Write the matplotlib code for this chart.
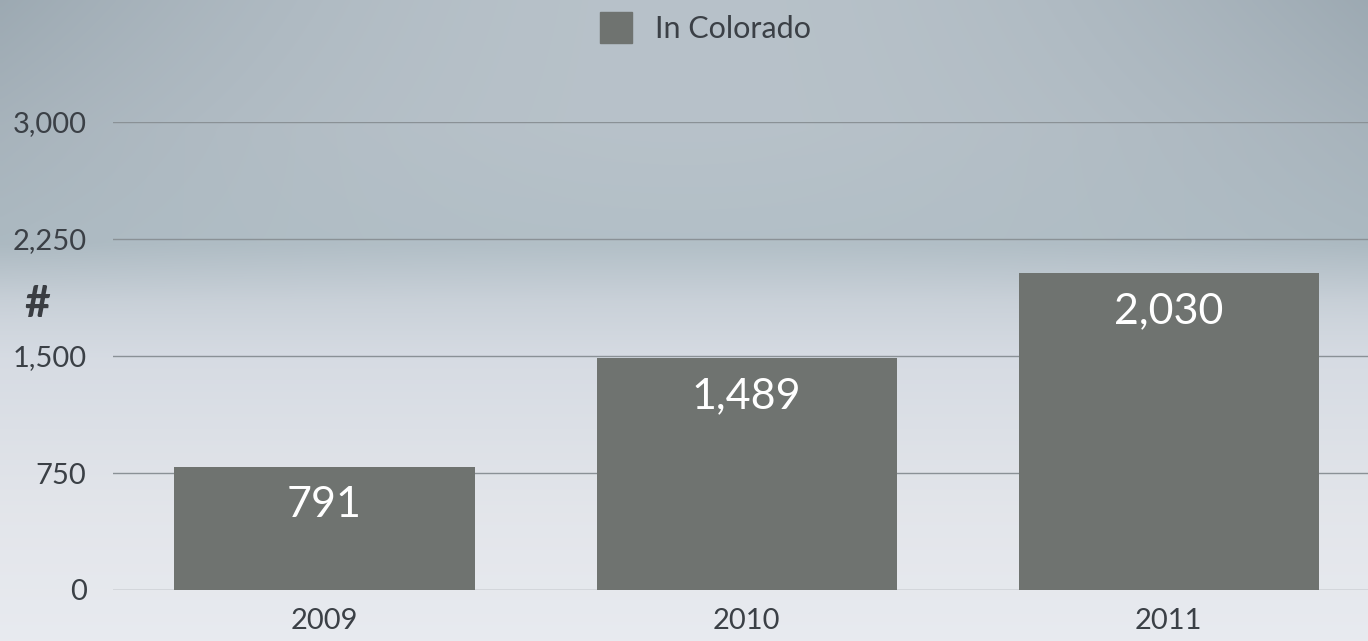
import numpy as np
import matplotlib
matplotlib.use("Agg")
import matplotlib.pyplot as plt
from matplotlib.patches import Rectangle

years = ["2009", "2010", "2011"]
values = [791, 1489, 2030]
value_labels = ["791", "1,489", "2,030"]
yticks = [0, 750, 1500, 2250, 3000]
ytick_labels = ["0", "750", "1,500", "2,250", "3,000"]
series_name = "In Colorado"

plt.rcParams['font.family'] = ['Lato', 'DejaVu Sans']
W, H = 1368, 641
fig = plt.figure(figsize=(W / 100, H / 100), dpi=100)

# background gradient
bg = fig.add_axes([0, 0, 1, 1], zorder=0)
ny, nx = 300, 300
yy = np.linspace(0, 1, ny)[:, None]  # 0 top, 1 bottom
xx = np.linspace(0, 1, nx)[None, :]
sy = [0.0, 0.2, 0.38, 0.47, 0.56, 0.8, 1.0]
rs = [0.72, 0.72, 0.70, 0.79, 0.84, 0.89, 0.91]
gs = [0.76, 0.76, 0.75, 0.82, 0.86, 0.90, 0.92]
bs = [0.79, 0.79, 0.78, 0.85, 0.89, 0.92, 0.94]
edge = ((xx - 0.5) * 2) ** 2
upper = np.clip(1 - yy / 0.5, 0, 1)
dark = 0.10 * edge * upper
r = np.interp(yy.ravel(), sy, rs)[:, None] - dark * 1.05
g = np.interp(yy.ravel(), sy, gs)[:, None] - dark * 0.95
b = np.interp(yy.ravel(), sy, bs)[:, None] - dark * 0.9
img = np.clip(np.dstack([r * np.ones_like(xx), g * np.ones_like(xx), b * np.ones_like(xx)]), 0, 1)
bg.imshow(img, aspect='auto', extent=[0, 1, 0, 1], interpolation='bilinear')
bg.set_axis_off()

ax = fig.add_axes([113 / W, (H - 590) / H, 1 - 113 / W, (590 - 122) / H], zorder=1)
ax.patch.set_alpha(0)
x = np.arange(len(years))
bar_color = "#6f7370"
ax.bar(x, values, width=300 / 422, color=bar_color, zorder=2)
ax.set_xlim((113 - 324.5) / 422, (1368 - 324.5) / 422)
ax.set_ylim(0, 3000)
for yt in yticks:
    ax.axhline(yt, color="#8a9196", lw=1.0, zorder=1)
for s in ax.spines.values():
    s.set_visible(False)
ax.set_yticks(yticks)
ax.set_yticklabels(ytick_labels)
ax.set_xticks(x)
ax.set_xticklabels(years)
ax.tick_params(axis='y', length=0, pad=19, labelsize=21, labelcolor="#3b4046")
ax.tick_params(axis='x', length=0, pad=13, labelsize=21, labelcolor="#3b4046")

for xi, val, lab in zip(x, values, value_labels):
    ax.annotate(lab, (xi, val), xytext=(0, -38), textcoords='offset pixels',
                ha='center', va='center', color='white', fontsize=31, zorder=3)

# y-axis symbol
fig.text(37 / W, 1 - 304 / H, "#", fontsize=32, fontweight='bold', color="#3a3d42",
         ha='center', va='center')

# legend
fig.patches.append(Rectangle((600 / W, 1 - 43 / H), 32 / W, 31 / H, transform=fig.transFigure,
                             color=bar_color, zorder=3))
fig.text(655 / W, 1 - 29 / H, series_name, fontsize=22, color="#3b4046", ha='left', va='center')

fig.savefig("out.png", dpi=100)
